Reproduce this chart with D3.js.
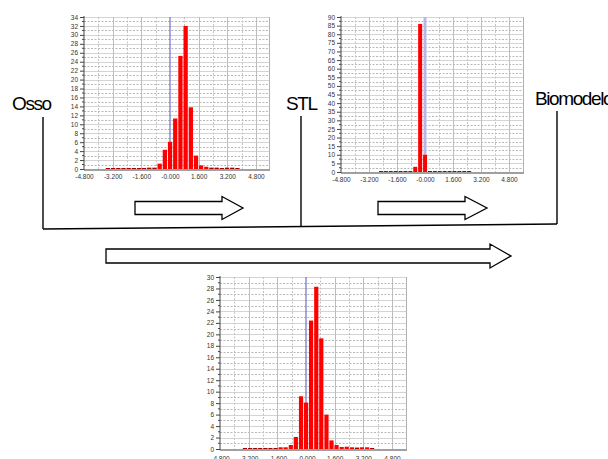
<!DOCTYPE html>
<html><head><meta charset="utf-8">
<script src="https://cdn.jsdelivr.net/npm/d3@7"></script>
<style>
html,body{margin:0;padding:0;background:#fff;}
svg{display:block;}
</style></head>
<body>
<svg id="c" width="608" height="459"></svg>
<script>
// ---------------- data ----------------
const xTickValues = [-4.8, -3.2, -1.6, 0, 1.6, 3.2, 4.8];
const xTickLabels = ["-4.800", "-3.200", "-1.600", "-0.000", "1.600", "3.200", "4.800"];

// Osso -> STL comparison
const ossoCenters = [-3.47,-3.18,-2.89,-2.60,-2.31,-2.02,-1.73,-1.45,-1.16,-0.87,-0.58,-0.29,0.00,0.29,0.58,0.87,1.16,1.45,1.73,2.02,2.31,2.60,2.89,3.18,3.47,3.76];
const ossoValues  = [0.1,0.1,0.1,0.1,0.1,0.1,0.1,0.2,0.3,0.3,1.2,4.3,6.1,11.3,25.3,32.0,13.8,3.0,0.8,0.5,0.3,0.3,0.2,0.3,0.3,0.2];
const ossoYTicks  = [0,2,4,6,8,10,12,14,16,18,20,22,24,26,28,30,32,34];

// STL -> Biomodelo comparison
const stlCenters = [-2.52,-2.24,-1.96,-1.68,-1.40,-1.12,-0.84,-0.56,-0.28,0.00,0.28,0.56,0.84,1.12,1.40,1.68,1.96,2.24,2.52];
const stlValues  = [0.4,0.4,0.4,0.4,0.4,0.4,0.4,3.0,86.0,10.0,0.4,0.4,0.4,0.4,0.4,0.4,0.4,0.4,0.4];
const stlYTicks  = [0,5,10,15,20,25,30,35,40,45,50,55,60,65,70,75,80,85,90];

// Osso -> Biomodelo comparison
const bioCenters = [-3.41,-3.12,-2.84,-2.56,-2.27,-1.99,-1.70,-1.42,-1.14,-0.85,-0.57,-0.28,0.00,0.28,0.57,0.85,1.14,1.42,1.70,1.99,2.27,2.56,2.84,3.12,3.41,3.69];
const bioValues  = [0.1,0.1,0.1,0.1,0.1,0.1,0.1,0.3,0.3,0.7,2.1,9.2,8.1,22.4,28.3,19.3,6.0,1.5,0.7,0.35,0.4,0.3,0.25,0.3,0.3,0.1];
const bioYTicks  = [0,2,4,6,8,10,12,14,16,18,20,22,24,26,28,30];

const labels = ["Osso", "STL", "Biomodelo"];

// ---------------- drawing ----------------
const svg = d3.select("#c");

function histogram(cfg) {
  const g = svg.append("g");
  const x = d3.scaleLinear().domain([-4.8, 4.8]).range([cfg.x0, cfg.x1]);
  const y = d3.scaleLinear().domain([0, cfg.yMax]).range([cfg.y0, cfg.y1]);
  const right = cfg.right;
  const step = cfg.yStep;

  const minorY = d3.range(step / 2, cfg.yMax, step);
  g.selectAll(".hm").data(minorY).join("line")
    .attr("x1", cfg.x0).attr("x2", right)
    .attr("y1", d => Math.round(y(d)) + 0.5).attr("y2", d => Math.round(y(d)) + 0.5)
    .attr("stroke", "#b8b8b8").attr("stroke-width", 1).attr("stroke-dasharray", "2,1.5");
  g.selectAll(".hM").data(cfg.yTicks.filter(d => d > 0)).join("line")
    .attr("x1", cfg.x0).attr("x2", right)
    .attr("y1", d => Math.round(y(d)) + 0.5).attr("y2", d => Math.round(y(d)) + 0.5)
    .attr("stroke", "#d4d4d4").attr("stroke-width", 1);
  const minorX = [-4.0, -2.4, -0.8, 0.8, 2.4, 4.0];
  g.selectAll(".vm").data(minorX).join("line")
    .attr("x1", d => Math.round(x(d)) + 0.5).attr("x2", d => Math.round(x(d)) + 0.5)
    .attr("y1", cfg.y1).attr("y2", cfg.y0)
    .attr("stroke", "#c4c4c4").attr("stroke-width", 1).attr("stroke-dasharray", "2,1.5");
  g.selectAll(".vM").data(xTickValues.filter(d => d !== 0 && d !== -4.8)).join("line")
    .attr("x1", d => Math.round(x(d)) + 0.5).attr("x2", d => Math.round(x(d)) + 0.5)
    .attr("y1", cfg.y1).attr("y2", cfg.y0)
    .attr("stroke", "#bdbdbd").attr("stroke-width", 1);
  g.append("line").attr("x1", right + 0.5).attr("x2", right + 0.5)
    .attr("y1", cfg.y1).attr("y2", cfg.y0).attr("stroke", "#b0b0b0");

  g.append("line")
    .attr("x1", x(0)).attr("x2", x(0))
    .attr("y1", cfg.y1).attr("y2", cfg.y0)
    .attr("stroke", cfg.zeroColor).attr("stroke-width", cfg.zeroWidth);

  const bw = cfg.binWidth;
  g.selectAll(".bar").data(cfg.centers.map((c, i) => ({c, v: cfg.values[i]}))).join("rect")
    .attr("x", d => x(d.c - bw / 2) + 0.5)
    .attr("width", d => Math.max(0.5, x(d.c + bw / 2) - x(d.c - bw / 2) - 0.9))
    .attr("y", d => Math.min(y(d.v), cfg.y0 - 1))
    .attr("height", d => Math.max(1, cfg.y0 - y(d.v)))
    .attr("fill", d => (cfg.y0 - y(d.v)) < 1.5 ? "#a30000" : "#ff0000");

  const xa = g.append("g").attr("transform", `translate(0,${cfg.y0 + 1})`)
    .call(d3.axisBottom(x).tickValues(xTickValues).tickFormat((d, i) => xTickLabels[i]).tickSize(0).tickPadding(cfg.xPad));
  xa.select(".domain").remove();
  xa.append("line").attr("x1", cfg.x0).attr("x2", right + 1).attr("y1", 0).attr("y2", 0)
    .attr("stroke", "#a0a0a0").attr("stroke-width", 2);
  xa.selectAll("text").attr("font-family", "Liberation Sans, Arial, sans-serif").attr("font-size", 6.5).attr("fill", "#333");

  const ya = g.append("g").attr("transform", `translate(${cfg.x0},0)`)
    .call(d3.axisLeft(y).tickValues(cfg.yTicks).tickFormat(d => d).tickSize(4).tickPadding(2));
  ya.select(".domain").attr("stroke", "#444").attr("d", `M0,${cfg.y1 - 1}V${cfg.y0 + 1}`);
  ya.selectAll(".tick line").attr("stroke", "#444");
  ya.selectAll("text").attr("font-family", "Liberation Sans, Arial, sans-serif").attr("font-size", 6.5).attr("fill", "#333");
  ya.selectAll(".mt").data(minorY).join("line")
    .attr("x1", -2).attr("x2", 0).attr("y1", d => y(d)).attr("y2", d => y(d)).attr("stroke", "#444");
}

histogram({x0: 84, x1: 256, right: 269, y0: 169, y1: 17, yMax: 34, yStep: 2, yTicks: ossoYTicks, xPad: 4,
  centers: ossoCenters, values: ossoValues, binWidth: 0.289, zeroColor: "#5555bb", zeroWidth: 1});
histogram({x0: 341, x1: 509, right: 523, y0: 172, y1: 17, yMax: 90, yStep: 5, yTicks: stlYTicks, xPad: 4,
  centers: stlCenters, values: stlValues, binWidth: 0.28, zeroColor: "#b8b8e6", zeroWidth: 3});
histogram({x0: 220, x1: 392, right: 406, y0: 449, y1: 277, yMax: 30, yStep: 2, yTicks: bioYTicks, xPad: 6,
  centers: bioCenters, values: bioValues, binWidth: 0.284, zeroColor: "#5555bb", zeroWidth: 1});

// ---------------- labels and connectors ----------------
const lab = svg.append("g").attr("font-family", "Liberation Sans, Arial, sans-serif")
  .attr("font-size", 19).attr("fill", "#000").attr("letter-spacing", -1.4);
lab.append("text").attr("x", 12).attr("y", 110).text(labels[0]);
lab.append("text").attr("x", 286).attr("y", 110).text(labels[1]);
lab.append("text").attr("x", 535).attr("y", 105).text(labels[2]);

const ln = svg.append("g").attr("stroke", "#000").attr("stroke-width", 1.4).attr("fill", "none");
ln.append("line").attr("x1", 43).attr("y1", 117).attr("x2", 43).attr("y2", 229);
ln.append("line").attr("x1", 301).attr("y1", 116).attr("x2", 301).attr("y2", 227);
ln.append("line").attr("x1", 557).attr("y1", 111).attr("x2", 557).attr("y2", 224);
ln.append("line").attr("x1", 43).attr("y1", 229).attr("x2", 557).attr("y2", 224);

function arrow(x0, x1, headX, yc, bodyH, headH) {
  const p = [[x0, yc - bodyH / 2], [headX, yc - bodyH / 2], [headX, yc - headH / 2], [x1, yc],
             [headX, yc + headH / 2], [headX, yc + bodyH / 2], [x0, yc + bodyH / 2]];
  svg.append("path").attr("d", "M" + p.join("L") + "Z")
    .attr("fill", "#fff").attr("stroke", "#000").attr("stroke-width", 1.3);
}
arrow(135, 243, 222, 208, 13, 23);
arrow(378, 487, 465, 208, 13, 23);
arrow(106, 511, 490, 256, 14, 24);
</script>
</body></html>
